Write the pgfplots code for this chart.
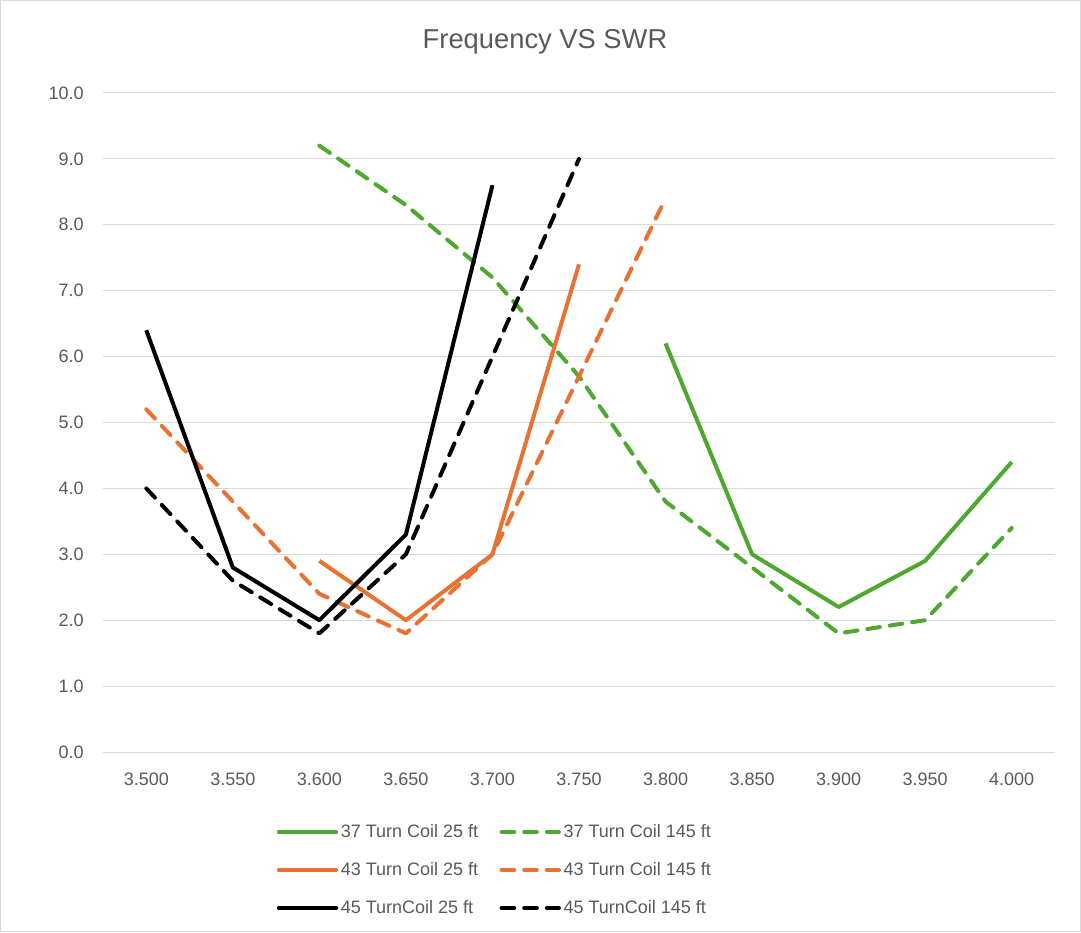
\documentclass[border=0pt]{standalone}
\usepackage{fontspec}
\setmainfont{Liberation Sans}
\usepackage{pgfplots}
\pgfplotsset{compat=1.18}
\definecolor{cgreen}{HTML}{4EA72E}
\definecolor{corange}{HTML}{E97132}
\definecolor{ctext}{HTML}{595959}
\definecolor{cgrid}{HTML}{D9D9D9}
\tikzset{dsh/.style={dash pattern=on 9.5pt off 7.5pt, line cap=round}}

\begin{document}
\begin{tikzpicture}
\path[use as bounding box] (0pt,0pt) rectangle (810.75pt,699pt);
\draw[cgrid, line width=0.75pt] (0.4pt,0.4pt) rectangle (810.35pt,698.6pt);
\node[text=ctext, font=\fontsize{20.5}{24}\selectfont] at (408.75pt,668pt) {Frequency VS SWR};
\begin{axis}[
    at={(77.25pt,135pt)}, anchor=south west,
    scale only axis, width=714pt, height=494.25pt,
    xmin=-0.5, xmax=10.5, ymin=0, ymax=10,
    xtick={0,...,10},
    xticklabels={3.500,3.550,3.600,3.650,3.700,3.750,3.800,3.850,3.900,3.950,4.000},
    ytick={0,1,...,10},
    ymajorgrids=true,
    major grid style={cgrid, line width=0.75pt},
    axis line style={draw=none},
    major tick length=0pt,
    tick label style={text=ctext, font=\fontsize{13.5}{16}\selectfont},
    /pgf/number format/assume math mode=true,
    yticklabel style={xshift=-11pt, /pgf/number format/.cd, fixed, fixed zerofill, precision=1},
    xticklabel style={yshift=-12pt},
    every axis plot/.append style={line width=3pt, line join=round},
    legend columns=2,
    legend cell align=left,
    legend style={at={(0.412,-0.179)}, anchor=center, draw=none, fill=none,
        text=ctext, font=\fontsize{13.5}{16}\selectfont, row sep=13.25pt,
        /tikz/every even column/.append style={column sep=14pt}},
    legend image code/.code={\draw[#1, line cap=round] (0pt,0pt) -- (43pt,0pt);},
]
\addplot[cgreen] coordinates {(6,6.2)(7,3.0)(8,2.2)(9,2.9)(10,4.4)};
\addlegendentry{37 Turn Coil 25 ft}
\addplot[cgreen, dsh] coordinates {(2,9.2)(3,8.3)(4,7.2)(5,5.7)(6,3.8)(7,2.8)(8,1.8)(9,2.0)(10,3.4)};
\addlegendentry{37 Turn Coil 145 ft}
\addplot[corange] coordinates {(2,2.9)(3,2.0)(4,3.0)(5,7.4)};
\addlegendentry{43 Turn Coil 25 ft}
\addplot[corange, dsh] coordinates {(0,5.2)(1,3.8)(2,2.4)(3,1.8)(4,3.0)(5,5.7)(6,8.4)};
\addlegendentry{43 Turn Coil 145 ft}
\addplot[black] coordinates {(0,6.4)(1,2.8)(2,2.0)(3,3.3)(4,8.6)};
\addlegendentry{45 TurnCoil 25 ft}
\addplot[black, dsh] coordinates {(0,4.0)(1,2.6)(2,1.8)(3,3.0)(4,6.0)(5,9.0)};
\addlegendentry{45 TurnCoil 145 ft}
\end{axis}
\end{tikzpicture}
\end{document}
